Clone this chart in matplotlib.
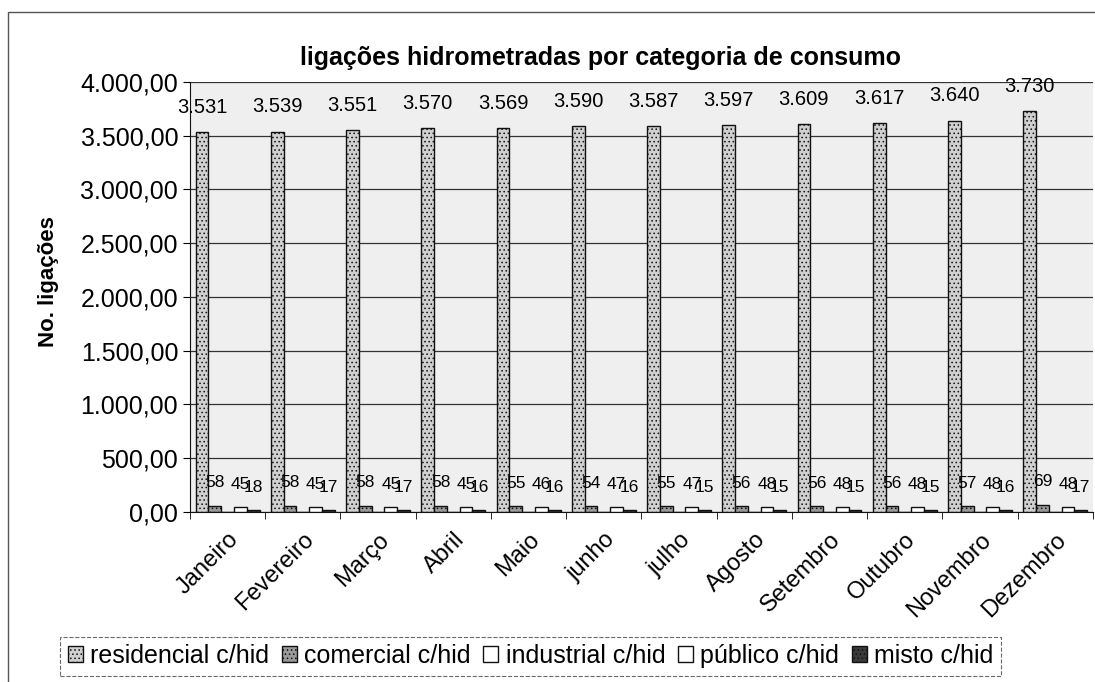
import matplotlib
matplotlib.use("Agg")
import matplotlib.pyplot as plt
import numpy as np
from matplotlib.patches import Rectangle

plt.rcParams['font.family'] = ['Liberation Sans', 'DejaVu Sans']
plt.rcParams['hatch.linewidth'] = 0.6

months = ["Janeiro", "Fevereiro", "Março", "Abril", "Maio", "junho", "julho",
          "Agosto", "Setembro", "Outubro", "Novembro", "Dezembro"]
residencial = [3531, 3539, 3551, 3570, 3569, 3590, 3587, 3597, 3609, 3617, 3640, 3730]
comercial = [58, 58, 58, 58, 55, 54, 55, 56, 56, 56, 57, 69]
industrial = [0, 0, 0, 0, 0, 0, 0, 0, 0, 0, 0, 0]
publico = [45, 45, 45, 45, 46, 47, 47, 48, 48, 48, 48, 48]
misto = [18, 17, 17, 16, 16, 16, 15, 15, 15, 15, 16, 17]
series_names = ["residencial c/hid", "comercial c/hid", "industrial c/hid",
                "público c/hid", "misto c/hid"]
yticks = [0, 500, 1000, 1500, 2000, 2500, 3000, 3500, 4000]

fig = plt.figure(figsize=(10.95, 6.82), dpi=100)
ax = fig.add_axes([0.1735, 0.2493, 0.8245, 0.6305])
ax.set_facecolor('#efefef')

x = np.arange(len(months))
w = 0.17
styles = [
    dict(facecolor='#d0d0d0', hatch='....', edgecolor='#111111'),
    dict(facecolor='#9a9a9a', hatch='....', edgecolor='#111111'),
    dict(facecolor='white', edgecolor='#111111'),
    dict(facecolor='white', edgecolor='#111111'),
    dict(facecolor='#3a3a3a', hatch='....', edgecolor='#111111'),
]
data = [residencial, comercial, industrial, publico, misto]
handles = []
for i, (vals, st, name) in enumerate(zip(data, styles, series_names)):
    pos = x + (i - 2) * w
    b = ax.bar(pos, vals, width=w, linewidth=1.0, label=name, zorder=3, **st)
    handles.append(b)
    fs = 14.5 if i == 0 else 12.5
    for xp, v in zip(pos, vals):
        if v > 0:
            ax.annotate(f"{v:,}".replace(",", "."), (xp, v), xytext=(0, 11),
                        textcoords='offset points', ha='center', va='bottom',
                        fontsize=fs, zorder=5)

ax.set_xlim(-0.5, len(months) - 0.5)
ax.set_ylim(0, 4000)
ax.set_yticks(yticks)
ax.set_yticklabels([f"{t:,.2f}".replace(",", "X").replace(".", ",").replace("X", ".") for t in yticks],
                   fontsize=18)
ax.yaxis.grid(True, color='#333333', linewidth=0.9, zorder=1)
ax.set_axisbelow(True)
ax.set_xticks(x)
ax.set_xticklabels(months, rotation=45, ha='right', rotation_mode='anchor', fontsize=17)
ax.tick_params(axis='x', length=0, pad=12)
ax.set_xticks(np.arange(-0.5, len(months), 1), minor=True)
ax.tick_params(axis='x', which='minor', length=5, direction='out')
ax.tick_params(axis='y', length=5, direction='out')
for s in ['top', 'right']:
    ax.spines[s].set_visible(False)
ax.spines['left'].set_color('#111111')
ax.spines['bottom'].set_color('#111111')

ax.set_ylabel("No. ligações", fontsize=16, fontweight='bold')
ax.yaxis.set_label_coords(-0.145, 0.535)
fig.text(0.548, 0.915, "ligações hidrometradas por categoria de consumo",
         ha='center', va='center', fontsize=18, fontweight='bold')

leg = fig.legend(handles=handles, labels=series_names, loc='center left',
                 bbox_to_anchor=(60 / 1095, 0.038), ncol=5, fontsize=18,
                 handlelength=0.6, handleheight=0.6, handletextpad=0.3,
                 columnspacing=0.5, frameon=True, fancybox=False, borderpad=0.3,
                 borderaxespad=0)
leg.get_frame().set_edgecolor('#444444')
leg.get_frame().set_linestyle('--')
leg.get_frame().set_linewidth(0.8)

fig.patches.append(Rectangle((8 / 1095, -0.01), 1.1, 1 - 12 / 682 + 0.01,
                             transform=fig.transFigure, fill=False,
                             edgecolor='#555555', linewidth=1.0))

fig.savefig("out.png", dpi=100)
